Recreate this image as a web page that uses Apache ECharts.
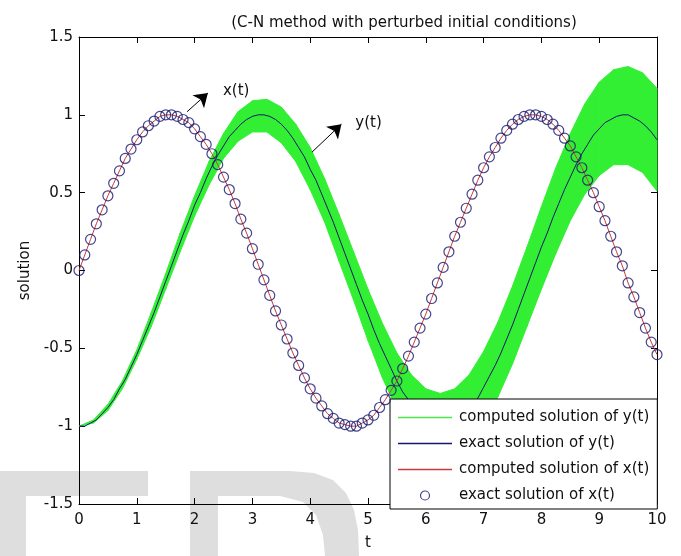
<!DOCTYPE html>
<html>
<head>
<meta charset="utf-8">
<title>C-N method with perturbed initial conditions</title>
<script src="https://cdn.jsdelivr.net/npm/echarts@6/dist/echarts.min.js"></script>
<style>
  html, body { margin: 0; padding: 0; background: #fff; }
</style>
</head>
<body>
<div id="container" style="width:681px;height:556px;"></div>
<script type="text/javascript">
// sample times of the exact solutions (step 0.1)
var tFine = [0,0.1,0.2,0.3,0.4,0.5,0.6,0.7,0.8,0.9,1,1.1,1.2,1.3,1.4,1.5,1.6,1.7,1.8,1.9,
  2,2.1,2.2,2.3,2.4,2.5,2.6,2.7,2.8,2.9,3,3.1,3.2,3.3,3.4,3.5,3.6,3.7,3.8,3.9,
  4,4.1,4.2,4.3,4.4,4.5,4.6,4.7,4.8,4.9,5,5.1,5.2,5.3,5.4,5.5,5.6,5.7,5.8,5.9,
  6,6.1,6.2,6.3,6.4,6.5,6.6,6.7,6.8,6.9,7,7.1,7.2,7.3,7.4,7.5,7.6,7.7,7.8,7.9,
  8,8.1,8.2,8.3,8.4,8.5,8.6,8.7,8.8,8.9,9,9.1,9.2,9.3,9.4,9.5,9.6,9.7,9.8,9.9,10];

// x(t): circles and red computed line
var xExact = [0.00,0.10,0.20,0.30,0.39,0.48,0.56,0.64,0.72,0.78,0.84,0.89,0.93,0.96,0.99,1.00,1.00,0.99,0.97,0.95,
  0.91,0.86,0.81,0.75,0.68,0.60,0.52,0.43,0.33,0.24,0.14,0.04,-0.06,-0.16,-0.26,-0.35,-0.44,-0.53,-0.61,-0.69,
  -0.76,-0.82,-0.87,-0.92,-0.95,-0.98,-0.99,-1.00,-1.00,-0.98,-0.96,-0.93,-0.88,-0.83,-0.77,-0.71,-0.63,-0.55,-0.46,-0.37,
  -0.28,-0.18,-0.08,0.02,0.12,0.22,0.31,0.40,0.49,0.58,0.66,0.73,0.79,0.85,0.90,0.94,0.97,0.99,1.00,1.00,
  0.99,0.97,0.94,0.90,0.85,0.80,0.73,0.66,0.58,0.50,0.41,0.32,0.22,0.12,0.03,-0.08,-0.17,-0.27,-0.37,-0.46,-0.54];

// y(t): exact solution (blue)
var yExact = [-1.00,-1.00,-0.98,-0.96,-0.92,-0.88,-0.83,-0.76,-0.70,-0.62,-0.54,-0.45,-0.36,-0.27,-0.17,-0.07,0.03,0.13,0.23,0.32,
  0.42,0.50,0.59,0.67,0.74,0.80,0.86,0.90,0.94,0.97,0.99,1.00,1.00,0.99,0.97,0.94,0.90,0.85,0.79,0.73,
  0.65,0.58,0.49,0.40,0.31,0.21,0.11,0.01,-0.09,-0.19,-0.28,-0.38,-0.47,-0.55,-0.63,-0.71,-0.78,-0.83,-0.89,-0.93,
  -0.96,-0.98,-1.00,-1.00,-0.99,-0.98,-0.95,-0.91,-0.87,-0.82,-0.75,-0.68,-0.61,-0.53,-0.44,-0.35,-0.25,-0.15,-0.05,0.05,
  0.15,0.24,0.34,0.43,0.52,0.60,0.68,0.75,0.81,0.87,0.91,0.95,0.97,0.99,1.00,1.00,0.98,0.96,0.93,0.89,0.84];

// green band of computed y(t) (perturbed runs), edges
var tBand = [0,0.25,0.5,0.75,1,1.25,1.5,1.75,2,2.25,2.5,2.75,3,3.25,3.5,3.75,4,4.25,4.5,4.75,
  5,5.25,5.5,5.75,6,6.25,6.5,6.75,7,7.25,7.5,7.75,8,8.25,8.5,8.75,9,9.25,9.5,9.75,10];
var bandUpper = [-1.00,-0.96,-0.86,-0.71,-0.51,-0.27,-0.02,0.24,0.48,0.70,0.88,1.02,1.09,1.10,1.05,0.94,0.79,0.59,0.36,0.12,
  -0.12,-0.34,-0.53,-0.67,-0.76,-0.79,-0.76,-0.67,-0.52,-0.33,-0.10,0.15,0.41,0.66,0.88,1.07,1.21,1.29,1.31,1.27,1.17];
var bandLower = [-1.00,-0.98,-0.90,-0.76,-0.57,-0.36,-0.12,0.12,0.35,0.55,0.72,0.83,0.89,0.89,0.82,0.70,0.52,0.31,0.06,-0.19,
  -0.45,-0.69,-0.89,-1.05,-1.16,-1.21,-1.19,-1.12,-0.99,-0.81,-0.60,-0.36,-0.12,0.11,0.32,0.49,0.61,0.68,0.68,0.63,0.51];

var legendNames = ['computed solution of y(t)', 'exact solution of y(t)', 'computed solution of x(t)', 'exact solution of x(t)'];

var FONT = 'DejaVu Sans';
var GREEN = '#33ef33';
var NAVY = '#16166e';
var RED = '#c83a3a';
var LINE_ICON = 'path://M0,0H54V1.6H0Z';

function pairs(ts, vs) {
  var out = [];
  for (var i = 0; i < ts.length; i++) out.push([ts[i], vs[i]]);
  return out;
}
var bandData = [];
for (var i = 0; i < tBand.length; i++) bandData.push([tBand[i], bandLower[i], bandUpper[i]]);

// one quad per step between lower and upper edges
function renderBand(params, api) {
  var i = params.dataIndex;
  if (i >= tBand.length - 1) return null;
  var pts = [
    api.coord([tBand[i], bandLower[i]]),
    api.coord([tBand[i], bandUpper[i]]),
    api.coord([tBand[i + 1], bandUpper[i + 1]]),
    api.coord([tBand[i + 1], bandLower[i + 1]])
  ];
  return {
    type: 'polygon',
    shape: { points: pts },
    style: { fill: GREEN, stroke: GREEN, lineWidth: 1 }
  };
}

function legendLine(name, color) {
  return {
    name: name, icon: LINE_ICON,
    itemStyle: { color: color, borderWidth: 0, opacity: 1 },
    lineStyle: { color: color, width: 0, opacity: 0 }
  };
}

var axisCommon = {
  min: 0, max: 10, interval: 1,
  axisLine: { show: true, onZero: false, lineStyle: { color: '#000', width: 1 } },
  axisTick: { show: true, inside: true, length: 6, lineStyle: { color: '#000' } },
  splitLine: { show: false }
};

var myChart = echarts.init(document.getElementById('container'));
myChart.setOption({
  animation: false,
  backgroundColor: '#fff',
  textStyle: { fontFamily: FONT },
  title: {
    text: '(C-N method with perturbed initial conditions)',
    left: 399, top: 11, textAlign: 'center',
    textStyle: { fontFamily: FONT, fontSize: 15, fontWeight: 'normal', color: '#111' }
  },
  // faint "FD" watermark along the bottom
  graphic: [
    { type: 'rect', z: -10, shape: { x: 0, y: 471, width: 148, height: 25 }, style: { fill: '#dedede' } },
    { type: 'rect', z: -10, shape: { x: 0, y: 471, width: 26, height: 85 }, style: { fill: '#dedede' } },
    { type: 'polygon', z: -10, shape: { points: [[190,471],[290,471],[314,473],[333,480],[346,493],[354,510],[358,530],[359,556],
      [325,556],[323,535],[316,515],[303,502],[280,496],[218,496],[218,556],[190,556]] }, style: { fill: '#dedede' } }
  ],
  grid: { left: 79, right: 24, top: 37, bottom: 47, containLabel: false },
  legend: {
    data: [
      legendLine(legendNames[0], '#4ce64c'),
      legendLine(legendNames[1], NAVY),
      legendLine(legendNames[2], RED),
      { name: legendNames[3], icon: 'circle', itemStyle: { color: '#fff', borderColor: NAVY, borderWidth: 1.2 } }
    ],
    orient: 'vertical',
    left: 390, top: 399,
    padding: [11, 8, 6, 8],
    itemWidth: 54, itemHeight: 9, itemGap: 11,
    backgroundColor: '#fff',
    borderColor: '#000', borderWidth: 1, borderRadius: 0,
    textStyle: { fontFamily: FONT, fontSize: 15, color: '#111', width: 192, padding: [0, 0, 0, 2] }
  },
  xAxis: [
    Object.assign({}, axisCommon, {
      type: 'value', position: 'bottom',
      name: 't', nameLocation: 'middle', nameGap: 32,
      nameTextStyle: { fontFamily: FONT, fontSize: 15, color: '#111' },
      axisLabel: { fontFamily: FONT, fontSize: 15, color: '#111', margin: 9 }
    }),
    Object.assign({}, axisCommon, {
      type: 'value', position: 'top', axisLabel: { show: false }
    })
  ],
  yAxis: [
    Object.assign({}, axisCommon, {
      type: 'value', position: 'left', min: -1.5, max: 1.5, interval: 0.5,
      name: 'solution', nameLocation: 'middle', nameGap: 46, nameRotate: 90,
      nameTextStyle: { fontFamily: FONT, fontSize: 15, color: '#111' },
      axisLabel: { fontFamily: FONT, fontSize: 15, color: '#111', margin: 6 }
    }),
    Object.assign({}, axisCommon, {
      type: 'value', position: 'right', min: -1.5, max: 1.5, interval: 0.5,
      axisLabel: { show: false }
    })
  ],
  series: [
    {
      name: legendNames[0], type: 'custom', data: bandData,
      renderItem: renderBand, color: GREEN, silent: true, z: 1,
      encode: { x: 0, y: [1, 2] }
    },
    {
      name: legendNames[1], type: 'line', data: pairs(tFine, yExact),
      symbol: 'none', color: NAVY, lineStyle: { color: NAVY, width: 1 }, z: 3,
      markLine: {
        silent: true, symbol: ['none', 'arrow'], symbolSize: 13,
        lineStyle: { color: '#000', width: 1, type: 'solid' },
        itemStyle: { color: '#000' },
        label: { show: false },
        data: [
          [{ coord: [1.87, 1.02] }, { coord: [2.23, 1.14] }],
          [{ coord: [4.03, 0.76] }, { coord: [4.54, 0.94] }]
        ]
      },
      markPoint: {
        silent: true, symbol: 'circle', symbolSize: 0,
        label: { show: true, position: 'right', distance: 0, formatter: '{b}',
          fontFamily: FONT, fontSize: 15, color: '#111' },
        data: [
          { name: 'x(t)', coord: [2.49, 1.15] },
          { name: 'y(t)', coord: [4.78, 0.95] }
        ]
      }
    },
    {
      name: legendNames[2], type: 'line', data: pairs(tFine, xExact),
      symbol: 'none', color: RED, lineStyle: { color: RED, width: 1 }, z: 3
    },
    {
      name: legendNames[3], type: 'scatter', data: pairs(tFine, xExact),
      symbol: 'circle', symbolSize: 10, z: 4,
      itemStyle: { color: 'rgba(255,255,255,0)', borderColor: NAVY, borderWidth: 1.2 }
    }
  ]
});
</script>
</body>
</html>
